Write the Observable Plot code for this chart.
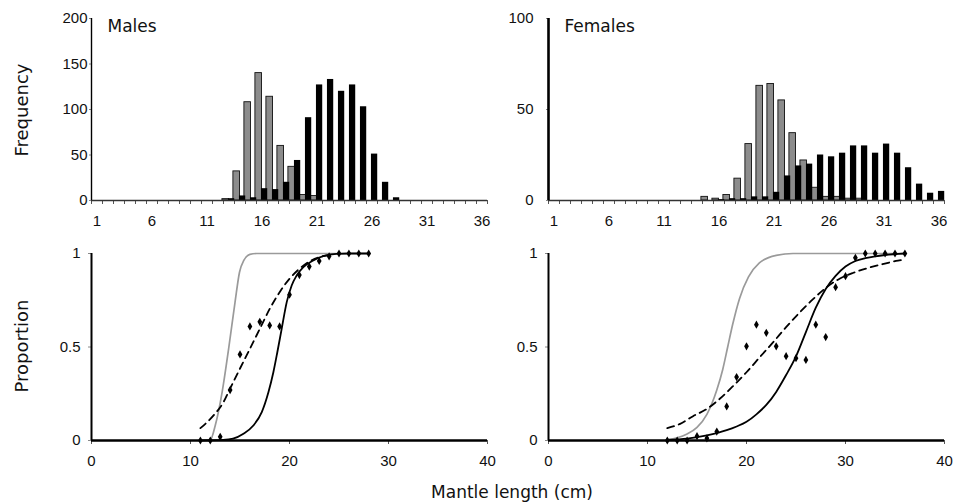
<!DOCTYPE html>
<html><head><meta charset="utf-8">
<script src="https://cdn.jsdelivr.net/npm/d3@7"></script>
<script src="https://cdn.jsdelivr.net/npm/@observablehq/plot@0.6"></script>
<style>
body{margin:0;background:#fff;}
#chart{position:relative;width:956px;height:504px;overflow:hidden;background:#fff;
  font-family:"Liberation Sans",Arial,sans-serif;color:#111;}
.panel{position:absolute;}
.ytitle{position:absolute;font-family:"DejaVu Sans",sans-serif;font-size:18px;white-space:nowrap;transform:translate(-50%,-50%) rotate(-90deg);}
.xtitle{position:absolute;font-family:"DejaVu Sans",sans-serif;font-size:17px;white-space:nowrap;transform:translate(-50%,-50%);}
</style></head><body><div id="chart"></div>
<script>
// ---------- DATA ----------
const categories = [1,2,3,4,5,6,7,8,9,10,11,12,13,14,15,16,17,18,19,20,21,22,23,24,25,26,27,28,29,30,31,32,33,34,35,36];
const categoryTickLabels = [1,6,11,16,21,26,31,36];

// Males frequency (grey = immature, black = mature)
const maleGrey  = [0,0,0,0,0,0,0,0,0,0,0,0,1.5,32,108,140,114,60,37,6,5,0,0,0,0,0,0,0,0,0,0,0,0,0,0,0];
const maleBlack = [0,0,0,0,0,0,0,0,0,0,0,0,2,5,3,13,12,20,44,91,127,133,120,127,103,51,20,3,0,0,0,0,0,0,0,0];
// Females frequency
const femaleGrey  = [0,0,0,0,0,0,0,0,0,0,0,0,0,0,2,1,3,12,31,63,64,55,37,22,7,2,2,1,1,0,0,0,0,0,0,0];
const femaleBlack = [0,0,0,0,0,0,0,0,0,0,0,0,0,0,0,0.5,1,1,2,2,4.5,13.5,19,20,25,24,26,30,30,26,31,26,18,9,4,5];

const maleFreqTicks = [0,50,100,150,200];
const femaleFreqTicks = [0,50,100];
const propTicks = [0,0.5,1];
const lengthTicks = [0,10,20,30,40];

// Males proportion: observed points
const malePointL = [11,12,13,14,15,16,17,18,19,20,21,22,23,24,25,26,27,28];
const malePointP = [0,0,0.02,0.27,0.46,0.61,0.635,0.615,0.61,0.78,0.885,0.93,0.96,0.985,1,1,1,1];
// Males curves [length, proportion]
const maleGreyCurve = [[11,0],[12,0.003],[12.5,0.08],[13.2,0.26],[13.85,0.49],[14.5,0.74],[14.95,0.9],[15.4,0.965],[16,0.995],[16.7,1],[28,1]];
const maleBlackCurve = [[11,0],[13.3,0.003],[14.3,0.01],[15.35,0.036],[16.35,0.08],[17.2,0.152],[17.87,0.258],[18.37,0.365],[18.77,0.472],[19.21,0.597],[19.72,0.74],[20.22,0.829],[20.72,0.882],[21.4,0.927],[22.4,0.963],[23.4,0.986],[24.75,0.998],[26,1],[28,1]];
const maleDashedCurve = [[11,0.066],[12.33,0.134],[13.33,0.205],[14,0.278],[15,0.385],[16,0.49],[17,0.597],[18,0.704],[19,0.793],[20,0.865],[21,0.918],[22,0.957],[23,0.98],[24.3,0.993]];

// Females proportion: observed points
const femalePointL = [12,13,14,15,16,17,18,19,20,21,22,23,24,25,26,27,28,29,30,31,32,33,34,35,36];
const femalePointP = [0,0,0,0.023,0.012,0.048,0.182,0.339,0.504,0.619,0.576,0.504,0.451,0.44,0.431,0.619,0.553,0.82,0.879,0.977,1,1,1,1,1];
const femaleGreyCurve = [[12,0.005],[13,0.015],[14,0.035],[15,0.07],[16,0.14],[17,0.27],[17.6,0.38],[18.1,0.5],[18.6,0.62],[19.3,0.76],[20.2,0.875],[21.3,0.95],[23,0.99],[24.7,1],[36,1]];
const femaleBlackCurve = [[12,0.003],[14,0.01],[16,0.027],[18,0.055],[19,0.075],[20,0.1],[21,0.14],[22,0.19],[23,0.26],[24,0.35],[25,0.45],[26,0.58],[27,0.71],[28,0.81],[29,0.88],[30,0.93],[31,0.96],[32,0.975],[33,0.985],[34,0.992],[36,1]];
const femaleDashedCurve = [[12,0.066],[13.3,0.089],[14.6,0.13],[16,0.169],[17.3,0.223],[18.7,0.294],[20,0.365],[21.35,0.446],[22.7,0.526],[24,0.606],[25.4,0.686],[26.75,0.757],[28.1,0.82],[29.4,0.865],[30.8,0.897],[32.1,0.92],[33.45,0.939],[35.3,0.962],[36,0.968]];

// ---------- DRAW ----------
const FONT = '"Liberation Sans",Arial,sans-serif';
const TITLEFONT = '"DejaVu Sans",sans-serif';
const chart = document.getElementById("chart");

function place(node, left, top) {
  node.classList.add("panel");
  node.style.left = left + "px";
  node.style.top = top + "px";
  chart.appendChild(node);
}

function histPanel(grey, black, ymax, yticks, title, yAxisWidth, yPad) {
  const g = categories.map((c, i) => ({c, n: grey[i]})).filter(d => d.n > 0);
  const b = categories.map((c, i) => ({c, n: black[i]})).filter(d => d.n > 0);
  const bounds = [categories[0] - 0.5, ...categories.map(c => c + 0.5)];
  return Plot.plot({
    width: 499, height: 235,
    marginLeft: 91, marginRight: 12, marginTop: 18, marginBottom: 35,
    style: {fontFamily: FONT, fontSize: "15px", background: "transparent", overflow: "visible"},
    x: {domain: [0.5, 36.5]},
    y: {domain: [0, ymax]},
    marks: [
      Plot.axisX({ticks: categoryTickLabels, tickSize: 0, tickPadding: 15, fontSize: 15, label: null}),
      Plot.axisX({ticks: bounds, tickSize: 4, tickFormat: () => "", stroke: "#555", label: null}),
      Plot.axisY({ticks: yticks, tickSize: 2, tickPadding: yPad, fontSize: 15, label: null, stroke: "#888"}),
      Plot.rect(g, {x1: d => d.c - 0.6, x2: d => d.c, y1: 0, y2: "n", fill: "#8c8c8c", stroke: "#111", strokeWidth: 0.9}),
      Plot.rect(b, {x1: d => d.c - 0.05, x2: d => d.c + 0.52, y1: 0, y2: "n", fill: "#000"}),
      Plot.ruleY([0], {stroke: "#333", strokeWidth: 1.3}),
      Plot.ruleX([0.5], {stroke: "#000", strokeWidth: yAxisWidth}),
      Plot.text([title], {frameAnchor: "top-left", dx: 16, dy: 1, lineAnchor: "top", textAnchor: "start", fontSize: 17, fontFamily: TITLEFONT})
    ]
  });
}

function propPanel(greyC, blackC, dashC, pL, pP) {
  const pts = pL.map((L, i) => ({L, p: pP[i]}));
  return Plot.plot({
    width: 499, height: 269,
    marginLeft: 91, marginRight: 12, marginTop: 18, marginBottom: 64,
    style: {fontFamily: FONT, fontSize: "15px", background: "transparent", overflow: "visible"},
    x: {domain: [0, 40]},
    y: {domain: [0, 1]},
    marks: [
      Plot.axisX({ticks: lengthTicks, tickSize: 4, tickPadding: 11, fontSize: 15, label: null, stroke: "#555"}),
      Plot.axisY({ticks: propTicks, tickSize: 3, tickPadding: 8, fontSize: 15, label: null, stroke: "#888", tickFormat: d => String(d)}),
      Plot.line(greyC, {x: d => d[0], y: d => d[1], stroke: "#9a9a9a", strokeWidth: 1.7, curve: "monotone-x"}),
      Plot.line(blackC, {x: d => d[0], y: d => d[1], stroke: "#000", strokeWidth: 1.8, curve: "monotone-x"}),
      Plot.line(dashC, {x: d => d[0], y: d => d[1], stroke: "#000", strokeWidth: 1.8, strokeDasharray: "7,5", curve: "monotone-x"}),
      Plot.dot(pts, {x: "L", y: "p", symbol: "diamond", r: 2.5, fill: "#000", stroke: "none"}),
      Plot.ruleY([0], {stroke: "#000", strokeWidth: 2.6}),
      Plot.ruleX([0], {stroke: "#000", strokeWidth: 2})
    ]
  });
}

place(histPanel(maleGrey, maleBlack, 200, maleFreqTicks, "Males", 1.4, 2), 0, 0);
place(histPanel(femaleGrey, femaleBlack, 100, femaleFreqTicks, "Females", 2.6, 13), 457, 0);
place(propPanel(maleGreyCurve, maleBlackCurve, maleDashedCurve, malePointL, malePointP), 0, 235);
place(propPanel(femaleGreyCurve, femaleBlackCurve, femaleDashedCurve, femalePointL, femalePointP), 457, 235);

function addText(cls, text, x, y) {
  const d = document.createElement("div");
  d.className = cls;
  d.textContent = text;
  d.style.left = x + "px";
  d.style.top = y + "px";
  chart.appendChild(d);
}
addText("ytitle", "Frequency", 21, 110);
addText("ytitle", "Proportion", 21, 346);
addText("xtitle", "Mantle length (cm)", 512, 492);
</script>
</body></html>
